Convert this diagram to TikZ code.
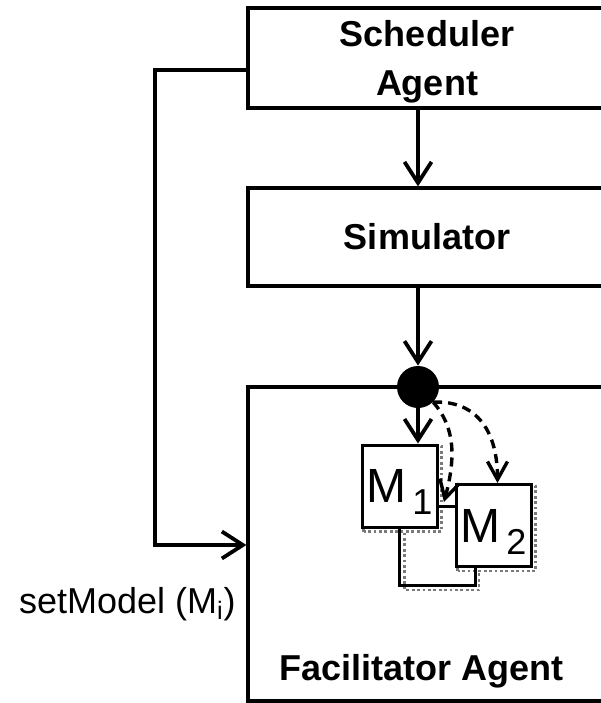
\documentclass[tikz,border=0pt]{standalone}
\usepackage{fontspec}
\setmainfont{Liberation Sans}
\usetikzlibrary{arrows.meta,backgrounds}

\definecolor{shadowgray}{HTML}{7A7A7A}
\newcommand{\modelname}[1]{{\fontsize{24}{24}\selectfont M}\kern3pt\smash{\raisebox{-6pt}{\fontsize{18}{18}\selectfont #1}}}

\begin{document}
\begin{tikzpicture}[x=0.5pt, y=-0.5pt,
    agentbox/.style={rectangle, draw=black, line width=1.6pt,
                     minimum width=179pt, inner sep=0pt, align=center,
                     font=\fontsize{18}{24.5}\selectfont\bfseries},
    modelbox/.style={rectangle, draw=black, line width=1.5pt, fill=white,
                     minimum width=37.5pt, minimum height=41pt, inner sep=0pt},
    junction/.style={circle, fill=black, minimum size=21pt, inner sep=0pt},
    flow/.style={-{Straight Barb[length=10.5pt,width=13.5pt]}, line width=1.9pt},
    dashflow/.style={-{Straight Barb[length=9pt,width=10pt]}, line width=1.7pt,
                     dash pattern=on 4.5pt off 3pt},
    link/.style={line width=1.5pt},
    shadowline/.style={draw=shadowgray, line width=1.4pt,
                       dash pattern=on 1.4pt off 1.3pt},
    biglbl/.style={font=\fontsize{18}{18}\selectfont\bfseries},
    msglbl/.style={font=\fontsize{18}{18}\selectfont},
]
\useasboundingbox (0,0) rectangle (601,703);
\clip (0,0) rectangle (601,703);

% --- Agent boxes ---
\node[agentbox, minimum height=50pt] (sched) at (427, 58) {Scheduler\\A\smash{g}ent};
\node[agentbox, minimum height=49pt] (sim) at (427, 237) {Simulator};
\node[agentbox, minimum height=157pt] (facil) at (427, 544) {};
\node[biglbl, anchor=base west] (faclbl) at (272, 680) {Facilitator Agent};

% --- Junction on top of the facilitator ---
\node[junction] (dot) at (418, 387) {};

\draw[flow] (sched.south -| dot) -- (sim.north -| dot);
\draw[flow] (sim.south -| dot) -- (dot.north);

% --- Models ---
\node[modelbox] (m1) at (399.5, 486) {\modelname{1}};
\node[modelbox] (m2) at (493.5, 525.5) {\modelname{2}};

\coordinate (bridge) at (446, 506);
\coordinate (loopL) at (399.5, 585);
\coordinate (loopR) at (475, 585);
\coordinate (tap) at (444, 502);

\draw[link] (m1.east |- bridge) -- (m2.west |- bridge);
\draw[link] (m1.south) -- (loopL) -- (loopR) -- (m2.south -| loopR);

% --- Shadows behind the models ---
\begin{scope}[on background layer]
\draw[shadowline] ([shift={(3,3)}]m1.south west) rectangle ([shift={(3,3)}]m1.north east);
\draw[shadowline] ([shift={(3,3)}]m2.south west) rectangle ([shift={(3,3)}]m2.north east);
\draw[shadowline] ([shift={(5,4)}]m1.south) -- ([shift={(5,5)}]loopL) -- ([shift={(4,5)}]loopR) -- ([shift={(4,3)}]m2.south -| loopR);
\end{scope}

% --- Calls from the junction ---
\draw[flow] (dot.south) -- (dot.south |- m1.north);
\draw[dashflow] (dot.-45) .. controls +(45,-2) and +(0,-50) .. ([xshift=2pt]m2.north);
\draw[dashflow] (dot.-45) .. controls +(22,25) and +(12,-45) .. (tap);

% --- setModel call ---
\coordinate (loopTop) at (155, 70);
\coordinate (loopBot) at (155, 545);
\draw[flow] (sched.west |- loopTop) -- (loopTop) -- (loopBot) -- (facil.west |- loopBot);
\node[msglbl, anchor=base west] (setlbl) at (12, 613) {setModel (M\textsubscript{i})};

\end{tikzpicture}
\end{document}
